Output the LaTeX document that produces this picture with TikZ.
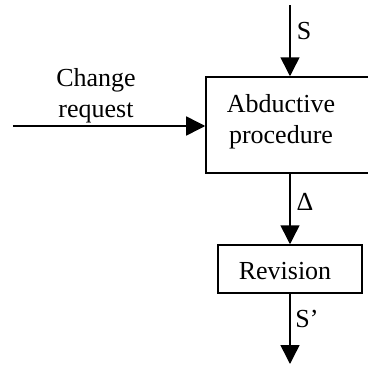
\documentclass[tikz,border=0pt]{standalone}
\usepackage{fontspec}
\setmainfont{Liberation Serif}
\usetikzlibrary{arrows.meta}
\begin{document}
\begin{tikzpicture}[x=1pt,y=-1pt,
  line width=1.5pt,
  txt/.style={font=\fontsize{26}{30.5}\selectfont, inner sep=0pt, anchor=base, align=center},
  flow/.style={-{Triangle[length=19pt,width=19pt]}},
  box/.style={draw, rectangle, inner sep=0pt}]
\useasboundingbox (0,0) rectangle (368,367);
\clip (0,0) rectangle (368,367);

% process boxes
\node[box, minimum width=180, minimum height=96] (abd) at (296,125) {};
\node[box, minimum width=144, minimum height=48] (rev) at (290,269) {};

% box captions (base anchor = baseline of the last line)
\node[txt] (abdtext) at (281,143) {Abductive\\procedure};
\node[txt] (revtext) at (285,279) {Revision};

% free ends of the flow
\coordinate (sin) at (290,5);
\coordinate (sout) at (290,364);
\coordinate (cin) at (13,126);

% flow arrows
\draw[flow] (sin) -- (sin |- abd.north);
\draw[flow] (cin) -- (cin -| abd.west);
\draw[flow] (rev.north |- abd.south) -- (rev.north);
\draw[flow] (rev.south) -- (sout);

% arrow labels
\node[txt] (slab) at (304,39) {S};
\node[txt] (crlab) at (96,117) {Change\\request};
\node[txt] (dlab) at (305,210) {Δ};
\node[txt] (splab) at (307,327) {S’};
\end{tikzpicture}
\end{document}
